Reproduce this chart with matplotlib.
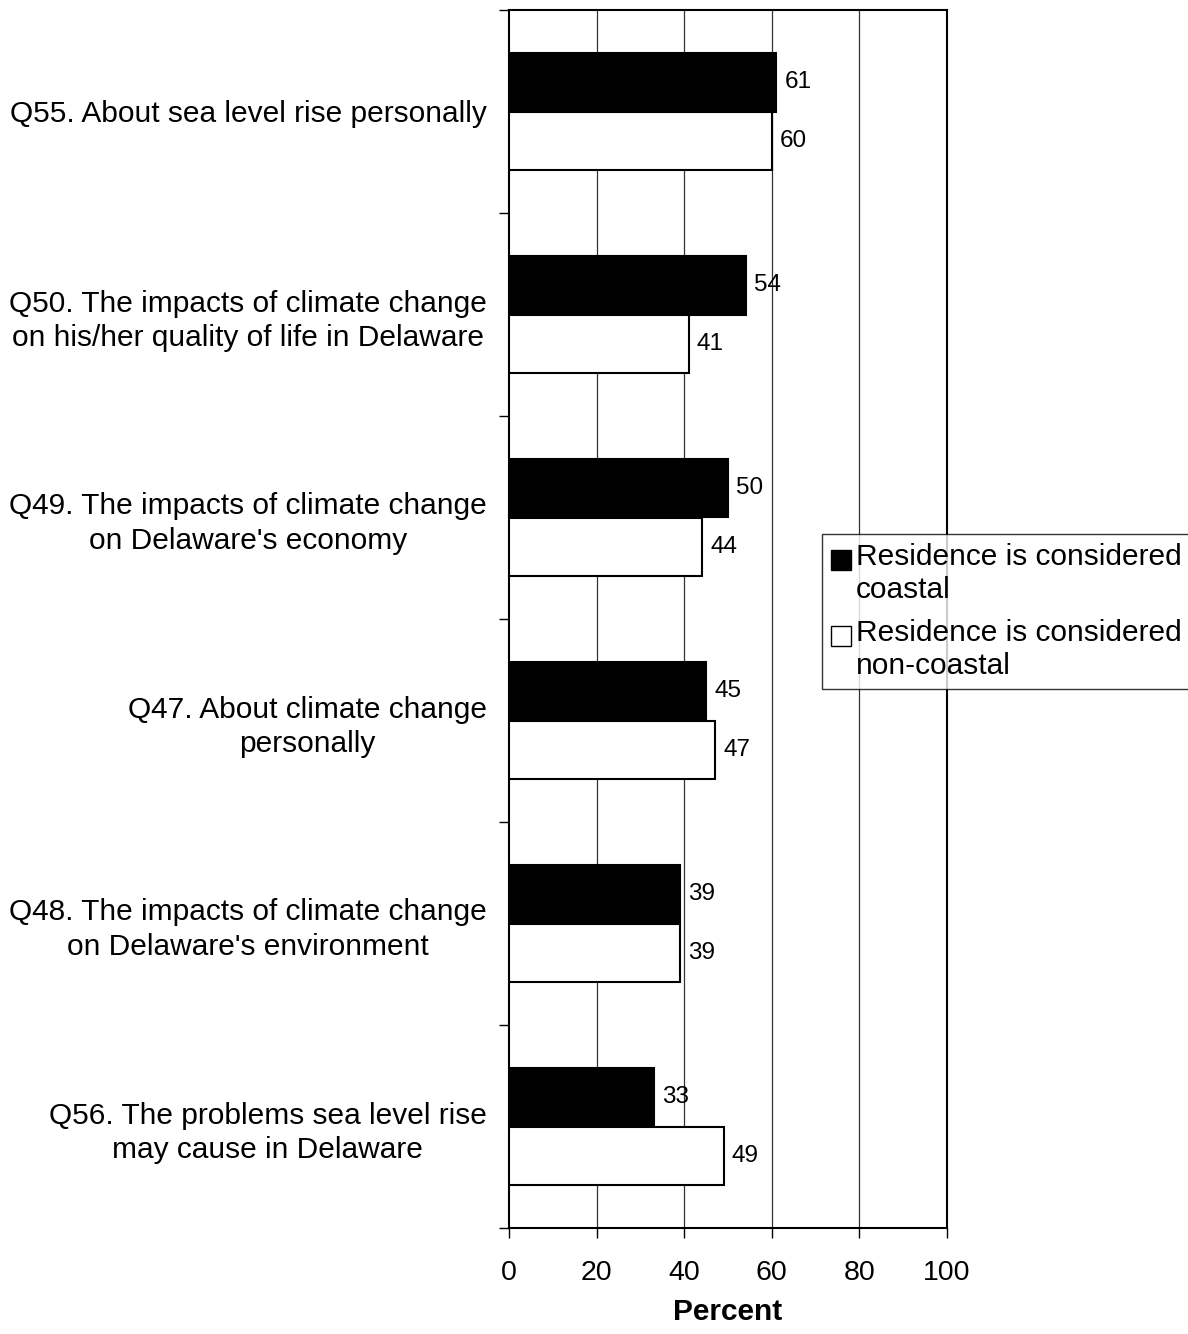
import matplotlib
matplotlib.use("Agg")
import matplotlib.pyplot as plt
from matplotlib.patches import Patch, Rectangle
import numpy as np

plt.rcParams['font.family'] = ['Liberation Sans', 'DejaVu Sans']

categories = [
    "Q55. About sea level rise personally",
    "Q50. The impacts of climate change\non his/her quality of life in Delaware",
    "Q49. The impacts of climate change\non Delaware's economy",
    "Q47. About climate change\npersonally",
    "Q48. The impacts of climate change\non Delaware's environment",
    "Q56. The problems sea level rise\nmay cause in Delaware",
]
coastal = [61, 54, 50, 45, 39, 33]
non_coastal = [60, 41, 44, 47, 39, 49]
series_names = ["Residence is considered\ncoastal", "Residence is considered\nnon-coastal"]
series_colors = ['black', 'white']
x_ticks = [0, 20, 40, 60, 80, 100]


class TopSquareHandler:
    """Draw a small square aligned with the first line of a two-line label."""
    def __init__(self, bottom=0.48, size=0.66):
        self.bottom = bottom
        self.size = size

    def legend_artist(self, legend, orig_handle, fontsize, handlebox):
        s = self.size * fontsize
        patch = Rectangle((0, self.bottom * fontsize), s, s,
                          facecolor=orig_handle.get_facecolor(),
                          edgecolor='black', linewidth=1.0,
                          transform=handlebox.get_transform())
        handlebox.add_artist(patch)
        return patch


fig = plt.figure(figsize=(11.88, 13.34), dpi=100)
ax = fig.add_axes([509/1188, (1334-1228)/1334, 438/1188, 1218/1334])

n = len(categories)
y = np.arange(n) + 0.5
h = 0.288
ax.barh(y - h/2, coastal, height=h, color=series_colors[0], edgecolor='black', linewidth=1.5, zorder=3)
ax.barh(y + h/2, non_coastal, height=h, color=series_colors[1], edgecolor='black', linewidth=1.5, zorder=3)

for yi, v in zip(y - h/2, coastal):
    ax.annotate(str(v), (v, yi), xytext=(6, 0), textcoords='offset points',
                va='center', ha='left', fontsize=17.5, zorder=4)
for yi, v in zip(y + h/2, non_coastal):
    ax.annotate(str(v), (v, yi), xytext=(6, 0), textcoords='offset points',
                va='center', ha='left', fontsize=17.5, zorder=4)

ax.set_xlim(0, 100)
ax.set_ylim(n, 0)
ax.set_xticks(x_ticks)
ax.set_xticklabels([str(t) for t in x_ticks], fontsize=20.5)
ax.tick_params(axis='x', direction='out', length=7, width=1, pad=16, colors='black')
ax.set_yticks(np.arange(n + 1))
ax.set_yticklabels([])
ax.tick_params(axis='y', direction='out', length=7, width=1)
ax.set_yticks(y, minor=True)
ax.set_yticklabels(categories, minor=True, fontsize=21.5, ha='right',
                   multialignment='center', linespacing=1.28)
ax.tick_params(axis='y', which='minor', length=0, pad=16)

for t in x_ticks[1:-1]:
    ax.axvline(t, color='#333333', linewidth=0.9, zorder=1)

for s in ax.spines.values():
    s.set_linewidth(1.5)
    s.set_color('black')

ax.set_xlabel("Percent", fontsize=21.5, fontweight='bold', labelpad=9)

handles = [Patch(facecolor=c, edgecolor='black') for c in series_colors]
hm = {hd: TopSquareHandler() for hd in handles}
leg = fig.legend(handles, series_names, loc='upper left',
                 bbox_to_anchor=(822/1188, 1 - 534/1334),
                 fontsize=21.5, frameon=True, fancybox=False, shadow=False,
                 handler_map=hm,
                 handlelength=0.66, handleheight=0.7, handletextpad=0.18,
                 borderpad=0.3, labelspacing=0.52, borderaxespad=0)
leg.get_frame().set_edgecolor('black')
leg.get_frame().set_linewidth(1.0)
for t in leg.get_texts():
    t.set_linespacing(1.21)

fig.savefig("out.png", dpi=100, facecolor='white')
